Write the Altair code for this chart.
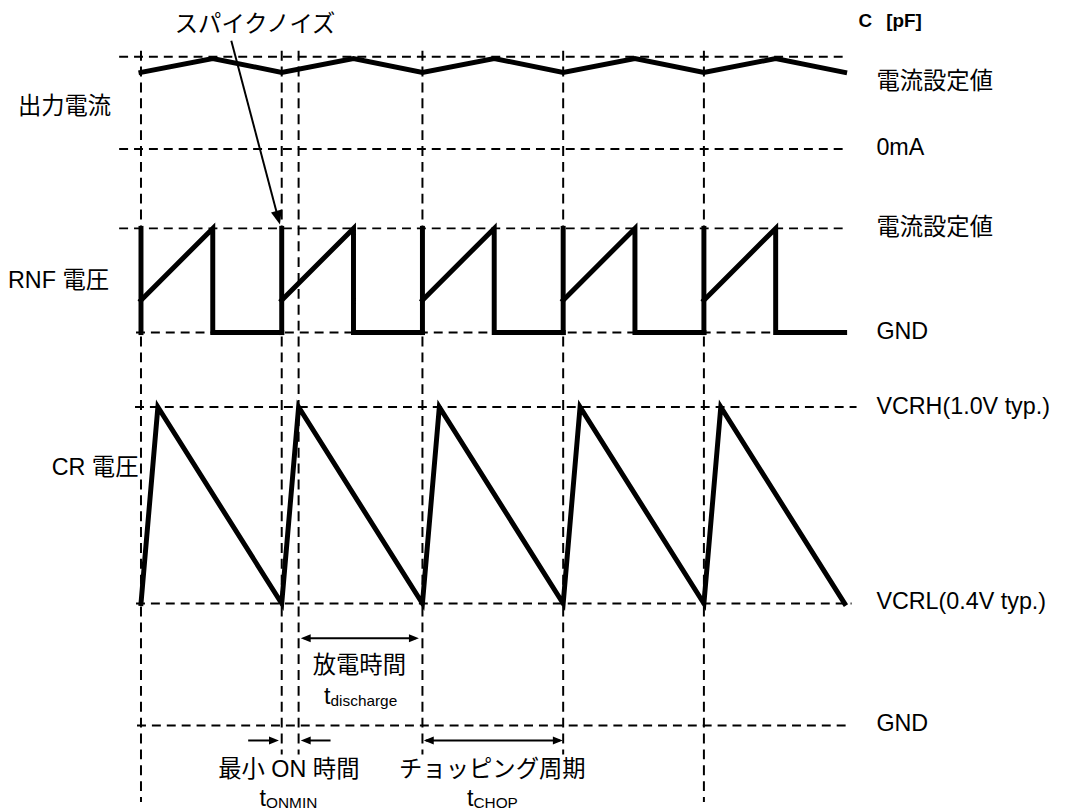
import altair as alt
import pandas as pd

# ---------------- data (semantic units) ----------------
cycle_starts = [0, 1, 2, 3, 4]      # start of each chopping period (t in units of tCHOP)
t_stop = 5.0                        # end of drawn time range
t_onmin = 0.12                      # minimum ON time / tCHOP
t_rise = 0.51                       # end of ON (RNF ramp) phase / tCHOP

current_level = [0.83, 0.98]        # output current low / high (relative to set value)
rnf_level = [0.0, 0.31, 1.0]        # RNF voltage: GND, level after spike, set value
cr_level = [0.4, 1.0]               # CR voltage: VCRL, VCRH [V]

right_labels = ["電流設定値", "0mA", "電流設定値", "GND",
                "VCRH(1.0V typ.)", "VCRL(0.4V typ.)", "GND"]
left_labels = ["出力電流", "RNF 電圧", "CR 電圧"]
annot_labels = ["スパイクノイズ", "放電時間", "最小 ON 時間", "チョッピング周期"]
t_main = ["t", "t", "t"]
t_subscripts = ["discharge", "ONMIN", "CHOP"]
unit_labels = ["C", "[pF]"]

# ---------------- layout (page pixels) ----------------
W, H = 1059, 804
PX0, PX_PER_T = 142.0, 141.8


def tx(px):
    return (px - PX0) / PX_PER_T


def ycur(v):
    return 147.0 - 93.0 * v


def yrnf(v):
    return 332.0 - 105.0 * v


def ycr(v):
    return 605.0 - (v - 0.4) * 330.0


Y_GND_BOTTOM = 728.0

FONT = "Liberation Sans, Noto Sans CJK JP"
FS = 23.5
FS_SUB = 15.5

xs = alt.Scale(domain=[tx(8), tx(8 + W)], nice=False, zero=False)
ys = alt.Scale(domain=[8, 8 + H], reverse=True, nice=False, zero=False)

# ---------------- waveforms ----------------
rows = []


def add(seg, pts):
    for i, (t, y) in enumerate(pts):
        rows.append(dict(seg=seg, i=i, t=t, y=y))


lo, hi = current_level
pts = []
for c in cycle_starts:
    pts += [(c, ycur(lo)), (c + t_rise, ycur(hi))]
pts.append((t_stop, ycur(lo)))
add("cur", pts)

g, step, top = rnf_level
for k, c in enumerate(cycle_starts):
    nxt = cycle_starts[k + 1] if k + 1 < len(cycle_starts) else t_stop
    add(f"rnf_v{k}", [(c, yrnf(g)), (c, yrnf(top))])
    add(f"rnf_r{k}", [(c, yrnf(step)), (c + t_rise, yrnf(top)),
                      (c + t_rise, yrnf(g)), (nxt, yrnf(g))])

vl, vh = cr_level
pts = []
for c in cycle_starts:
    pts += [(c, ycr(vl)), (c + t_onmin, ycr(vh))]
pts.append((t_stop, ycr(vl)))
add("cr", pts)

wave = alt.Chart(pd.DataFrame(rows)).mark_line(
    color="black", strokeWidth=5, strokeJoin="miter", strokeCap="square"
).encode(
    x=alt.X("t:Q", scale=xs, axis=None),
    y=alt.Y("y:Q", scale=ys, axis=None),
    detail="seg:N",
    order="i:Q",
)

# ---------------- dashed reference lines ----------------
hl = pd.DataFrame(dict(
    y=[ycur(1.0), ycur(0.0), yrnf(1.0), yrnf(0.0), ycr(vh), ycr(vl), Y_GND_BOTTOM],
    x1=[tx(v) for v in [120, 120, 120, 137, 136, 137, 138]],
    x2=[tx(v) for v in [852, 855, 855, 855, 863, 858, 858]],
))
hlines = alt.Chart(hl).mark_rule(color="black", strokeWidth=2, strokeDash=[9, 6]).encode(
    x=alt.X("x1:Q", scale=xs, axis=None), x2="x2:Q",
    y=alt.Y("y:Q", scale=ys, axis=None),
)

vt = [0, 1, 1 + t_onmin, 2, 3, 4]
vl_df = pd.DataFrame(dict(
    t=vt,
    y1=[48] * len(vt),
    y2=[805, 757, 757, 757, 757, 805],
))
vlines = alt.Chart(vl_df).mark_rule(color="black", strokeWidth=2, strokeDash=[10, 6]).encode(
    x=alt.X("t:Q", scale=xs, axis=None),
    y=alt.Y("y1:Q", scale=ys, axis=None), y2="y2:Q",
)

# ---------------- arrows ----------------
shafts = pd.DataFrame(dict(
    x1=[tx(233), tx(306), tx(429), tx(250), tx(308)],
    x2=[tx(279), tx(419), tx(564), tx(276), tx(333)],
    y1=[38, 640, 743, 743, 743],
    y2=[212, 640, 743, 743, 743],
))
shaft = alt.Chart(shafts).mark_rule(color="black", strokeWidth=2).encode(
    x=alt.X("x1:Q", scale=xs, axis=None), x2="x2:Q",
    y=alt.Y("y1:Q", scale=ys, axis=None), y2="y2:Q",
)

HEAD = "M0,0L-0.8,-2L0.8,-2Z"
big_head = alt.Chart(pd.DataFrame(dict(t=[tx(282)], y=[223], a=[345.2]))).mark_point(
    shape=HEAD, filled=True, size=196, color="black", opacity=1, strokeWidth=0
).encode(
    x=alt.X("t:Q", scale=xs, axis=None), y=alt.Y("y:Q", scale=ys, axis=None),
    angle=alt.Angle("a:Q", scale=None),
)
small_heads = alt.Chart(pd.DataFrame(dict(
    t=[tx(303), tx(422), tx(427), tx(567), tx(281), tx(303)],
    y=[640, 640, 743, 743, 743, 743],
    a=[90, 270, 90, 270, 270, 90],
))).mark_point(
    shape=HEAD, filled=True, size=100, color="black", opacity=1, strokeWidth=0
).encode(
    x=alt.X("t:Q", scale=xs, axis=None), y=alt.Y("y:Q", scale=ys, axis=None),
    angle=alt.Angle("a:Q", scale=None),
)

# ---------------- texts ----------------
left_df = pd.DataFrame(dict(
    text=left_labels + right_labels,
    t=[tx(18), tx(8), tx(52)] + [tx(883)] * len(right_labels),
    y=[105, 280, 468] + [80, 146, 227, 331, 407, 604, 726],
))
txt_left = alt.Chart(left_df).mark_text(
    align="left", baseline="middle", font=FONT, fontSize=FS, color="black"
).encode(x=alt.X("t:Q", scale=xs, axis=None), y=alt.Y("y:Q", scale=ys, axis=None), text="text:N")

center_df = pd.DataFrame(dict(
    text=annot_labels,
    t=[tx(257), tx(362), tx(291), tx(496)],
    y=[22, 668, 773, 773],
))
txt_center = alt.Chart(center_df).mark_text(
    align="center", baseline="middle", font=FONT, fontSize=FS, color="black"
).encode(x=alt.X("t:Q", scale=xs, axis=None), y=alt.Y("y:Q", scale=ys, axis=None), text="text:N")

split_x = [333, 268, 477]
base_y = [706, 809, 809]
tmain_df = pd.DataFrame(dict(text=t_main, t=[tx(v) for v in split_x], y=base_y))
txt_tmain = alt.Chart(tmain_df).mark_text(
    align="right", baseline="alphabetic", font=FONT, fontSize=FS, color="black"
).encode(x=alt.X("t:Q", scale=xs, axis=None), y=alt.Y("y:Q", scale=ys, axis=None), text="text:N")

tsub_df = pd.DataFrame(dict(text=t_subscripts, t=[tx(v) for v in split_x], y=[v + 2 for v in base_y]))
txt_tsub = alt.Chart(tsub_df).mark_text(
    align="left", baseline="alphabetic", font=FONT, fontSize=FS_SUB, color="black"
).encode(x=alt.X("t:Q", scale=xs, axis=None), y=alt.Y("y:Q", scale=ys, axis=None), text="text:N")

unit_df = pd.DataFrame(dict(text=unit_labels, t=[tx(865), tx(893)], y=[9, 9]))
txt_unit = alt.Chart(unit_df).mark_text(
    align="left", baseline="top", font=FONT, fontSize=19, fontWeight="bold", color="black"
).encode(x=alt.X("t:Q", scale=xs, axis=None), y=alt.Y("y:Q", scale=ys, axis=None), text="text:N")

chart = alt.layer(
    hlines, vlines, wave, shaft, big_head, small_heads,
    txt_left, txt_center, txt_tmain, txt_tsub, txt_unit,
).properties(
    width=W, height=H, padding=0,
    autosize=alt.AutoSizeParams(type="none"),
    background="white",
).configure_view(stroke=None)

chart.save("out.html", embed_options={"renderer": "svg", "actions": False})
